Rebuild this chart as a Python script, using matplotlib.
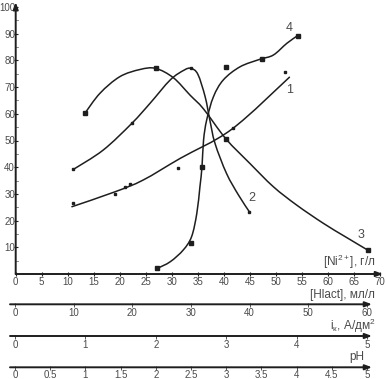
import numpy as np
import matplotlib
matplotlib.use('Agg')
import matplotlib.pyplot as plt
from matplotlib.path import Path
from matplotlib.patches import PathPatch

plt.rcParams['font.family'] = ['Liberation Sans', 'DejaVu Sans']
plt.rcParams['mathtext.fontset'] = 'custom'
plt.rcParams['mathtext.rm'] = 'Liberation Sans'
plt.rcParams['mathtext.it'] = 'Liberation Sans'

# measured points (x = [Ni2+] scale, y = response)
c1_x = [11.0, 19.0, 21.0, 22.0, 31.1, 41.7, 51.7]
c1_y = [26.5, 29.9, 32.7, 33.7, 39.6, 54.8, 75.8]
c2_x = [11.1, 22.4, 33.7, 44.9]
c2_y = [39.2, 56.7, 77.0, 23.2]
c3_x = [13.3, 26.9, 40.4, 67.6]
c3_y = [60.2, 77.0, 50.4, 9.0]
c4_x = [27.2, 33.7, 35.8, 40.4, 47.3, 54.2]
c4_y = [2.1, 11.7, 40.2, 77.4, 80.4, 89.1]

# fitted curves
f1_x = [10.8, 19.1, 24.5, 31.6, 41.5, 52.6]
f1_y = [25.2, 30.8, 35.2, 43.3, 54.2, 73.7]
f2_x = [11.1, 16.8, 22.3, 25.8, 29.7, 32.4, 33.7, 35.0, 36.4, 37.3, 38.3, 40.5, 42.8, 44.9]
f2_y = [39.2, 46.4, 56.4, 63.9, 72.7, 76.4, 77.0, 74.8, 66.4, 57.7, 48.9, 37.7, 29.6, 23.3]
f3_x = [13.3, 16.2, 20.0, 23.9, 26.9, 30.3, 33.5, 36.1, 40.4, 45.0, 49.5, 54.0, 59.1, 63.3, 67.6]
f3_y = [60.2, 67.7, 73.9, 76.6, 77.0, 73.5, 67.0, 61.8, 50.6, 41.4, 32.7, 25.8, 19.0, 14.0, 9.0]
f4_x = [27.2, 29.7, 32.2, 33.8, 34.8, 35.4, 35.8, 36.1, 36.7, 38.0, 39.9, 43.1, 46.9, 49.5, 52.1, 54.2]
f4_y = [2.1, 4.6, 9.0, 14.0, 22.7, 32.7, 40.2, 50.2, 57.7, 66.4, 72.7, 77.6, 80.4, 82.0, 86.4, 89.3]

labels = ['1', '2', '3', '4']
label_x = [52.6, 45.4, 66.3, 52.6]
label_y = [69.0, 28.5, 14.6, 92.0]

# extra scales below the main axis
hlact_ticks = [0, 10, 20, 30, 40, 50, 60]
ik_ticks = [0, 1, 2, 3, 4, 5]
ph_ticks = [0, 0.5, 1, 1.5, 2, 2.5, 3, 3.5, 4, 4.5, 5]
ph_labels = ['0', '0.5', '1', '1.5', '2', '2.5', '3', '3.5', '4', '4.5', '5']
ni_ticks = list(range(0, 75, 5))

W, H = 386, 379
fig = plt.figure(figsize=(W / 100, H / 100), dpi=100)


def px_axes(left, top, width, height):
    return fig.add_axes([left / W, 1 - (top + height) / H, width / W, height / H])


def smooth_path(ax, xs, ys, **kw):
    # Catmull-Rom through traced points, drawn as cubic Bezier segments in display space
    pts = ax.transData.transform(np.column_stack([xs, ys]))
    verts = [pts[0]]
    codes = [Path.MOVETO]
    n = len(pts)
    for i in range(n - 1):
        p0 = pts[max(i - 1, 0)]
        p1 = pts[i]
        p2 = pts[i + 1]
        p3 = pts[min(i + 2, n - 1)]
        verts += [p1 + (p2 - p0) / 6.0, p2 - (p3 - p1) / 6.0, p2]
        codes += [Path.CURVE4] * 3
    verts = ax.transData.inverted().transform(np.array(verts))
    ax.add_patch(PathPatch(Path(verts, codes), fill=False, **kw))


ink = '#1e1e1e'
txt = '#4a4a4a'

ax = px_axes(15.7, 7, 364.3, 267)
ax.set_xlim(0, 70)
ax.set_ylim(0, 100)
for s in ax.spines.values():
    s.set_visible(False)
ax.patch.set_alpha(0)

lw = 1.1
for fx, fy in [(f1_x, f1_y), (f2_x, f2_y), (f3_x, f3_y), (f4_x, f4_y)]:
    smooth_path(ax, fx, fy, edgecolor=ink, lw=lw, capstyle='round', joinstyle='round')
ax.plot(c1_x, c1_y, 's', color=ink, ms=1.8, ls='none')
ax.plot(c2_x, c2_y, 's', color=ink, ms=2.0, ls='none')
ax.plot(c3_x, c3_y, 's', color=ink, ms=3.3, ls='none')
ax.plot(c4_x, c4_y, 's', color=ink, ms=3.3, ls='none')
for t, x, y in zip(labels, label_x, label_y):
    ax.text(x, y, t, fontsize=9, color=txt, ha='center', va='center')

arrow = dict(arrowstyle='-|>,head_length=0.4,head_width=0.15', color=ink, lw=1.4,
             shrinkA=0, shrinkB=0)
ax.annotate('', xy=((383 - 15.7) / 364.3 * 70, 0), xytext=(0, 0),
            annotation_clip=False, arrowprops=arrow)
ax.annotate('', xy=(0, 101.8), xytext=(0, 0), annotation_clip=False, arrowprops=arrow)

ax.set_xticks(ni_ticks)
ax.set_xticklabels([str(v) for v in ni_ticks])
ax.set_yticks(range(10, 101, 10))
ax.tick_params(axis='x', direction='inout', length=3, width=0.8, color=ink,
               labelsize=7, labelcolor=txt, pad=1)
ax.tick_params(axis='y', direction='inout', length=3, width=0.8, color=ink,
               labelsize=7, labelcolor=txt, pad=-1)
for v in range(5, 100, 10):
    ax.plot([0, 0.5], [v, v], color='#777', lw=0.6, clip_on=False)
ax.text(375.7, H - 261.7, '[Ni$^{2+}$], г/л', transform=None, fontsize=8.5, color=txt,
        ha='right', va='center')


def scale_axis(line_y, xmax, ticks, ticklabels, label, label_right, label_y, pad=1.5):
    # 0 lands at px 15, xmax at px 367
    a = px_axes(15.0, line_y - 0.5, 352.0, 1.0)
    a.set_xlim(0, xmax)
    a.set_ylim(0, 1)
    for s in a.spines.values():
        s.set_visible(False)
    a.patch.set_alpha(0)
    a.set_yticks([])
    a.set_xticks(ticks)
    a.set_xticklabels(ticklabels)
    a.tick_params(axis='x', direction='inout', length=3, width=0.7, color='#555',
                  labelsize=7, labelcolor=txt, pad=pad)
    per_px = xmax / 352.0
    a.annotate('', xy=(xmax + 5 * per_px, 0.5), xytext=(-5 * per_px, 0.5),
               annotation_clip=False, arrowprops=arrow)
    a.text(label_right, H - label_y, label, transform=None, fontsize=8.5, color=txt,
           ha='right', va='center')
    return a


scale_axis(304.3, 60, hlact_ticks, [str(v) for v in hlact_ticks],
           '[Hlact], мл/л', 375, 295, pad=0.8)
scale_axis(336.0, 5, ik_ticks, [str(v) for v in ik_ticks],
           'i$_\\mathregular{к}$, А/дм$^\\mathregular{2}$', 375.7, 326.3, pad=0.8)
scale_axis(367.3, 5, ph_ticks, ph_labels, 'pH', 364, 356.7, pad=0.3)

fig.savefig('out.png', dpi=100)
